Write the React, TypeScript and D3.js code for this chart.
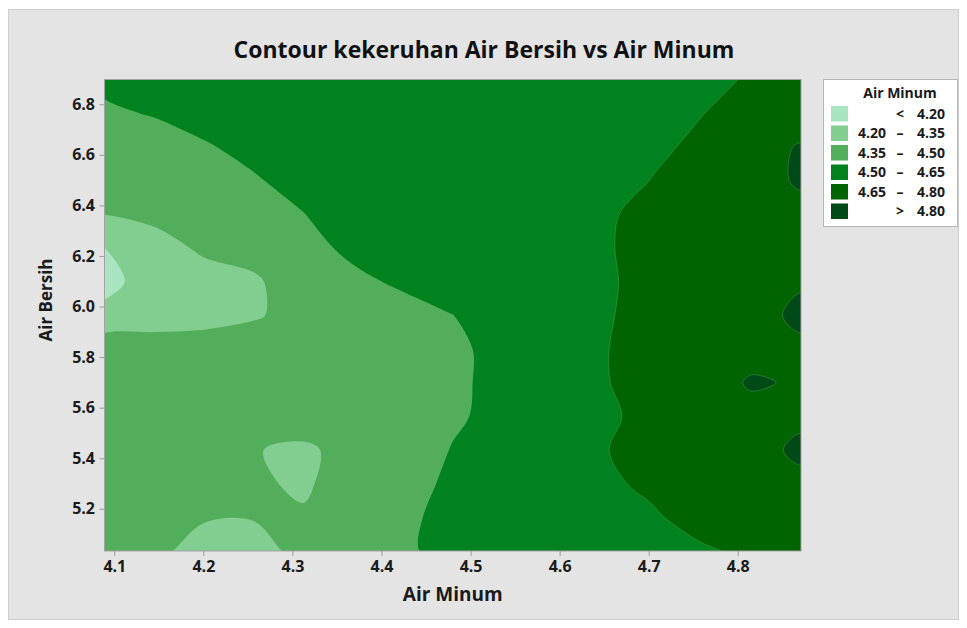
import * as d3 from "d3";
import { useEffect, useRef } from "react";

// mesh positions (Air Minum across, Air Bersih down from the top)
const airMinumGrid = [4.089, 4.145, 4.201, 4.257, 4.312, 4.368, 4.424, 4.48, 4.536, 4.592, 4.648, 4.703, 4.759, 4.815, 4.871];
const airBersihGrid = [6.898, 6.765, 6.632, 6.498, 6.365, 6.232, 6.099, 5.965, 5.832, 5.699, 5.566, 5.432, 5.299, 5.166, 5.033];

// fitted kekeruhan values, one row per Air Bersih value
const kekeruhan = [
  [4.51, 4.517, 4.528, 4.54, 4.551, 4.562, 4.574, 4.585, 4.596, 4.608, 4.619, 4.63, 4.642, 4.653, 4.67],
  [4.493, 4.503, 4.516, 4.53, 4.543, 4.557, 4.57, 4.583, 4.597, 4.61, 4.623, 4.637, 4.649, 4.664, 4.7],
  [4.464, 4.48, 4.496, 4.512, 4.528, 4.545, 4.561, 4.577, 4.593, 4.609, 4.625, 4.642, 4.658, 4.73, 4.814],
  [4.438, 4.457, 4.477, 4.496, 4.515, 4.535, 4.554, 4.573, 4.593, 4.612, 4.631, 4.651, 4.67, 4.72, 4.825],
  [4.352, 4.38, 4.42, 4.46, 4.499, 4.523, 4.547, 4.571, 4.594, 4.618, 4.642, 4.665, 4.689, 4.712, 4.74],
  [4.199, 4.3, 4.37, 4.41, 4.47, 4.52, 4.537, 4.564, 4.59, 4.617, 4.643, 4.67, 4.69, 4.71, 4.72],
  [4.16, 4.258, 4.3, 4.327, 4.44, 4.48, 4.515, 4.546, 4.577, 4.608, 4.64, 4.67, 4.7, 4.73, 4.785],
  [4.233, 4.26, 4.29, 4.335, 4.4, 4.43, 4.465, 4.499, 4.546, 4.592, 4.643, 4.67, 4.7, 4.75, 4.83],
  [4.454, 4.44, 4.43, 4.43, 4.44, 4.455, 4.47, 4.49, 4.515, 4.57, 4.645, 4.68, 4.7, 4.767, 4.773],
  [4.45, 4.44, 4.43, 4.43, 4.435, 4.45, 4.465, 4.49, 4.515, 4.575, 4.64, 4.7, 4.751, 4.81, 4.79],
  [4.44, 4.43, 4.42, 4.41, 4.41, 4.43, 4.455, 4.485, 4.53, 4.585, 4.63, 4.68, 4.72, 4.77, 4.785],
  [4.43, 4.42, 4.4, 4.355, 4.33, 4.39, 4.44, 4.505, 4.55, 4.59, 4.645, 4.68, 4.72, 4.773, 4.815],
  [4.42, 4.41, 4.39, 4.37, 4.33, 4.42, 4.46, 4.52, 4.56, 4.6, 4.635, 4.665, 4.71, 4.75, 4.782],
  [4.41, 4.4, 4.36, 4.355, 4.365, 4.42, 4.48, 4.53, 4.56, 4.59, 4.62, 4.64, 4.68, 4.72, 4.75],
  [4.4, 4.38, 4.3, 4.31, 4.38, 4.43, 4.48, 4.54, 4.565, 4.59, 4.61, 4.625, 4.64, 4.665, 4.7],
];

const levels = [4.2, 4.35, 4.5, 4.65, 4.8];
const bandColors = ["#a8e5c0", "#82cd90", "#52ae5a", "#00821f", "#006400", "#004a18"];
const legendRows = [
  ["", "<", "4.20"],
  ["4.20", "–", "4.35"],
  ["4.35", "–", "4.50"],
  ["4.50", "–", "4.65"],
  ["4.65", "–", "4.80"],
  ["", ">", "4.80"],
];
const xTicks = [4.1, 4.2, 4.3, 4.4, 4.5, 4.6, 4.7, 4.8];
const yTicks = [5.2, 5.4, 5.6, 5.8, 6.0, 6.2, 6.4, 6.6, 6.8];

const width = 967;
const height = 628;
const plot = { left: 104.5, right: 801, top: 79.5, bottom: 551 };
const font = "'Open Sans', 'Noto Sans', sans-serif";

export default function App() {
  const svgRef = useRef(null);

  useEffect(() => {
    if (!svgRef.current) return;
    const svg = d3.select(svgRef.current);
    svg.selectAll("*").remove();

    const x = d3
      .scaleLinear()
      .domain([airMinumGrid[0], airMinumGrid[airMinumGrid.length - 1]])
      .range([plot.left, plot.right]);
    const y = d3
      .scaleLinear()
      .domain([airBersihGrid[airBersihGrid.length - 1], airBersihGrid[0]])
      .range([plot.bottom, plot.top]);

    const nx = airMinumGrid.length;
    const ny = airBersihGrid.length;
    // contour grid coordinates -> data values (d3 puts sample i at i + 0.5)
    const gx = d3.scaleLinear().domain([0.5, nx - 0.5]).range([airMinumGrid[0], airMinumGrid[nx - 1]]);
    const gy = d3.scaleLinear().domain([0.5, ny - 0.5]).range([airBersihGrid[0], airBersihGrid[ny - 1]]);

    const contours = d3.contours().size([nx, ny]).thresholds(levels)(kekeruhan.flat());

    // rounded rings, roughly like Minitab's fine mesh
    const ringLine = d3.line().curve(d3.curveCatmullRomClosed.alpha(0.5));
    const toPx = (p: number[]) => [x(gx(p[0])), y(gy(p[1]))] as [number, number];
    const contourPath = (d: any) =>
      d.coordinates
        .map((poly: number[][][]) =>
          poly.map((ring) => ringLine(ring.slice(0, -1).map(toPx))).join(""),
        )
        .join("");

    // background frame
    svg.append("rect").attr("width", width).attr("height", height).attr("fill", "#ffffff");
    svg
      .append("rect")
      .attr("x", 8.5)
      .attr("y", 9.5)
      .attr("width", 950)
      .attr("height", 610)
      .attr("fill", "#e4e4e4")
      .attr("stroke", "#cfcfcf");

    svg
      .append("text")
      .attr("x", 484)
      .attr("y", 58)
      .attr("text-anchor", "middle")
      .attr("font-family", font)
      .attr("font-weight", "bold")
      .attr("font-size", 23)
      .attr("fill", "#111")
      .text("Contour kekeruhan Air Bersih vs Air Minum");

    svg
      .append("clipPath")
      .attr("id", "plot-clip")
      .append("rect")
      .attr("x", plot.left)
      .attr("y", plot.top)
      .attr("width", plot.right - plot.left)
      .attr("height", plot.bottom - plot.top);

    const g = svg.append("g").attr("clip-path", "url(#plot-clip)");
    g.append("rect")
      .attr("x", plot.left)
      .attr("y", plot.top)
      .attr("width", plot.right - plot.left)
      .attr("height", plot.bottom - plot.top)
      .attr("fill", bandColors[0]);

    g.selectAll("path")
      .data(contours)
      .join("path")
      .attr("d", contourPath)
      .attr("fill", (_, i) => bandColors[i + 1])
      .attr("stroke", (d) => (d.value >= 4.65 ? "#5fa65f" : "none"))
      .attr("stroke-opacity", 0.6)
      .attr("stroke-width", 0.7);

    svg
      .append("rect")
      .attr("x", plot.left)
      .attr("y", plot.top)
      .attr("width", plot.right - plot.left)
      .attr("height", plot.bottom - plot.top)
      .attr("fill", "none")
      .attr("stroke", "#a3a3a3")
      .attr("stroke-width", 1);

    const styleAxis = (sel: any) => {
      sel.select(".domain").remove();
      sel.selectAll(".tick line").attr("stroke", "#9c9c9c");
      sel
        .selectAll(".tick text")
        .attr("fill", "#1a1a1a")
        .attr("font-family", font)
        .attr("font-weight", "bold")
        .attr("font-size", 16);
    };

    svg
      .append("g")
      .attr("transform", `translate(0,${plot.bottom})`)
      .call(d3.axisBottom(x).tickValues(xTicks).tickSize(5).tickPadding(5).tickFormat(d3.format(".1f")))
      .call(styleAxis);

    svg
      .append("g")
      .attr("transform", `translate(${plot.left},0)`)
      .call(d3.axisLeft(y).tickValues(yTicks).tickSize(5).tickPadding(4.5).tickFormat(d3.format(".1f")))
      .call(styleAxis);

    svg
      .append("text")
      .attr("x", (plot.left + plot.right) / 2)
      .attr("y", 601)
      .attr("text-anchor", "middle")
      .attr("font-family", font)
      .attr("font-weight", "bold")
      .attr("font-size", 19)
      .attr("fill", "#1a1a1a")
      .text("Air Minum");

    svg
      .append("text")
      .attr("transform", "translate(52,300) rotate(-90)")
      .attr("text-anchor", "middle")
      .attr("font-family", font)
      .attr("font-weight", "bold")
      .attr("font-size", 17)
      .attr("fill", "#1a1a1a")
      .text("Air Bersih");

    // legend
    const lg = svg.append("g").attr("font-family", font).attr("font-weight", "bold").attr("fill", "#1a1a1a");
    lg.append("rect")
      .attr("x", 823.5)
      .attr("y", 79.5)
      .attr("width", 134)
      .attr("height", 147)
      .attr("fill", "#ffffff")
      .attr("stroke", "#b5b5b5");
    lg.append("text")
      .attr("x", 900)
      .attr("y", 98)
      .attr("text-anchor", "middle")
      .attr("font-size", 14)
      .text("Air Minum");

    const row = lg
      .selectAll("g.row")
      .data(legendRows)
      .join("g")
      .attr("class", "row")
      .attr("transform", (_, i) => `translate(0,${106 + i * 19.5})`);
    row
      .append("rect")
      .attr("x", 831)
      .attr("width", 17)
      .attr("height", 15.5)
      .attr("fill", (_, i) => bandColors[i]);
    row
      .append("text")
      .attr("x", 886)
      .attr("y", 12.5)
      .attr("text-anchor", "end")
      .attr("font-size", 14)
      .text((d) => d[0]);
    row
      .append("text")
      .attr("x", 900)
      .attr("y", 12.5)
      .attr("text-anchor", "middle")
      .attr("font-size", 14)
      .text((d) => d[1]);
    row
      .append("text")
      .attr("x", 945)
      .attr("y", 12.5)
      .attr("text-anchor", "end")
      .attr("font-size", 14)
      .text((d) => d[2]);
  }, []);

  return (
    <svg
      ref={svgRef}
      width={width}
      height={height}
      viewBox={`0 0 ${width} ${height}`}
      style={{ position: "absolute", left: 0, top: 0, display: "block" }}
    />
  );
}
